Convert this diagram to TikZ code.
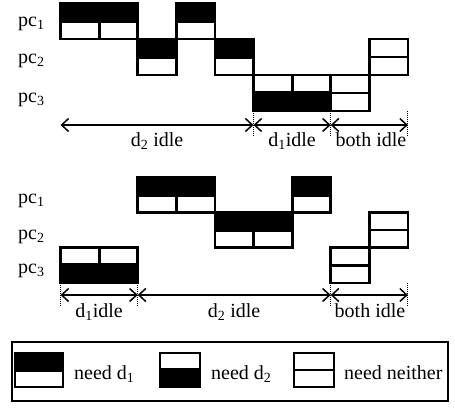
\documentclass[tikz,border=0pt]{standalone}
\usepackage{fontspec}
\setmainfont{Liberation Serif}
\usetikzlibrary{arrows.meta}

% one time slot of a process: 0 = needs neither disk, 1 = needs d1, 2 = needs d2
\newcommand\jobcell[5]{% x left, y top, width, height, kind
  \pgfmathsetmacro\xa{#1}%
  \pgfmathsetmacro\xb{#1+#3}%
  \pgfmathsetmacro\ym{#2+#4/2}%
  \pgfmathsetmacro\yb{#2+#4}%
  \ifcase#5\relax
    \draw[cellbox] (\xa,\ym) -- (\xb,\ym);
  \or \fill (\xa,#2) rectangle (\xb,\ym+0.06*#4);
  \or \fill (\xa,\ym-0.06*#4) rectangle (\xb,\yb);
  \fi
  \draw[cellbox] (\xa,#2) rectangle (\xb,\yb);
}

\begin{document}
\begin{tikzpicture}[x=1pt, y=-1pt, font=\fontsize{20}{24}\selectfont,
  cellbox/.style={draw=black, line width=2.8pt},
  span/.style={{Straight Barb[length=7pt,width=13pt]}-{Straight Barb[length=7pt,width=13pt]},
    line width=1.5pt},
  tick/.style={densely dotted, line width=1pt},
  proc/.style={anchor=base west, inner sep=0pt},
  idle/.style={anchor=base, inner sep=0pt}]
  \useasboundingbox (0,0) rectangle (455,407);

  % upper schedule
  \node[proc] (pa1) at (18,26) {pc\textsubscript{1}};
  \node[proc] (pa2) at (18,63) {pc\textsubscript{2}};
  \node[proc] (pa3) at (18,102) {pc\textsubscript{3}};
  \foreach \c/\r/\k in {0/0/1,1/0/1,2/1/1,3/0/1,4/1/1,5/2/2,6/2/2,7/2/0,8/1/0}
    {\jobcell{60.5+38.6*\c}{3+36*\r}{38.6}{36}{\k}}

  \coordinate (a0) at (60.5,125);
  \coordinate (a1) at (253.5,125);
  \coordinate (a2) at (330.7,125);
  \coordinate (a3) at (407.9,125);
  \foreach \t in {a1,a2,a3}
    \draw[tick] (\t) ++(0,-14) -- ++(0,25);
  \draw[span] (a0) -- (a1);
  \draw[span] (a1) -- (a2);
  \draw[span] (a2) -- (a3);
  \node[idle] (ia1) at (157,146) {d\textsubscript{2} idle};
  \node[idle] (ia2) at (292,146) {d\textsubscript{1}idle};
  \node[idle] (ia3) at (371,146) {both idle};

  % lower schedule
  \node[proc] (pb1) at (18,203) {pc\textsubscript{1}};
  \node[proc] (pb2) at (18,239) {pc\textsubscript{2}};
  \node[proc] (pb3) at (18,273) {pc\textsubscript{3}};
  \foreach \c/\r/\k in {0/2/2,1/2/2,2/0/1,3/0/1,4/1/1,5/1/1,6/0/1,7/2/0,8/1/0}
    {\jobcell{60.5+38.6*\c}{177+35.3*\r}{38.6}{35.3}{\k}}

  \coordinate (b0) at (60.5,295);
  \coordinate (b1) at (137.7,295);
  \coordinate (b2) at (330.7,295);
  \coordinate (b3) at (407.9,295);
  \foreach \t in {b0,b1,b2,b3}
    \draw[tick] (\t) ++(0,-12) -- ++(0,23);
  \draw[span] (b0) -- (b1);
  \draw[span] (b1) -- (b2);
  \draw[span] (b2) -- (b3);
  \node[idle] (ib1) at (99,317) {d\textsubscript{1}idle};
  \node[idle] (ib2) at (234,317) {d\textsubscript{2} idle};
  \node[idle] (ib3) at (370,317) {both idle};

  % legend
  \draw[line width=1.3pt] (12,342) rectangle (448,401);
  \jobcell{15}{353}{48}{34}{1}
  \jobcell{160}{353}{40}{34}{2}
  \jobcell{294}{353}{40}{34}{0}
  \node[proc] (k1) at (74,379) {need d\textsubscript{1}};
  \node[proc] (k2) at (211,379) {need d\textsubscript{2}};
  \node[proc] (k3) at (344,379) {need neither};
\end{tikzpicture}
\end{document}
